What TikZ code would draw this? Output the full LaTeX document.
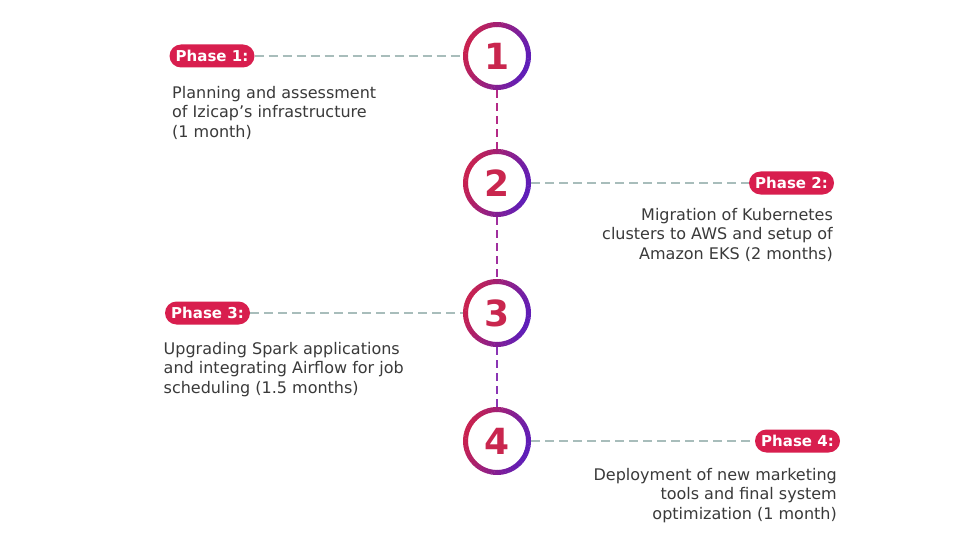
\documentclass[tikz,border=0pt]{standalone}
\usepackage{fontspec}
\setmainfont{DejaVu Sans}
\definecolor{crim}{HTML}{C8214F}
\definecolor{purp}{HTML}{5E1DB8}
\definecolor{digit}{HTML}{C9264E}
\definecolor{tagred}{HTML}{D81E4E}
\definecolor{hline}{HTML}{A8BDBB}
\definecolor{txt}{HTML}{3A3A3A}
\definecolor{vA}{HTML}{B42A86}
\definecolor{vB}{HTML}{A02F9E}
\definecolor{vC}{HTML}{8A35B4}
\tikzset{
  numnode/.style={circle, minimum size=68pt, inner sep=0pt, text=digit,
    font=\fontsize{36}{36}\selectfont\bfseries},
  tag/.style={fill=tagred, text=white, rounded corners=11.5pt, minimum width=85pt,
    minimum height=23pt, inner sep=0pt, font=\fontsize{15}{15}\selectfont\bfseries},
  desc/.style={inner sep=0pt, text=txt, font=\fontsize{16}{19.6}\selectfont},
  hdash/.style={draw=hline, line width=2pt, dash pattern=on 9pt off 5pt},
  vdash/.style={line width=2pt, dash pattern=on 8pt off 5pt},
}
\newcommand{\gradring}[1]{%
  \foreach \a in {0,5,...,355}{%
    \pgfmathsetmacro{\tt}{50*(1+cos(\a+20))}%
    \draw[draw=purp!\tt!crim, line width=5pt] (#1.center) ++(\a:31.5pt) arc[start angle=\a, end angle=\a+5.6, radius=31.5pt];
  }%
}
\begin{document}
\begin{tikzpicture}[x=1pt,y=-1pt]
\useasboundingbox (0,0) rectangle (960,540);
\fill[white] (0,0) rectangle (960,540);

\node[numnode] (c1) at (497,56) {1};
\node[numnode] (c2) at (497,183) {2};
\node[numnode] (c3) at (497,313) {3};
\node[numnode] (c4) at (497,441) {4};
\gradring{c1}
\gradring{c2}
\gradring{c3}
\gradring{c4}

\draw[vdash, draw=vA] (c1) -- (c2);
\draw[vdash, draw=vB] (c2) -- (c3);
\draw[vdash, draw=vC] (c3) -- (c4);

\node[tag] (p1) at (212,56) {Phase 1:};
\node[tag] (p2) at (791.5,183) {Phase 2:};
\node[tag] (p3) at (207.5,313) {Phase 3:};
\node[tag] (p4) at (797.5,441) {Phase 4:};

\draw[hdash] (p1) -- (c1);
\draw[hdash] (c2) -- (p2);
\draw[hdash] (p3) -- (c3);
\draw[hdash] (c4) -- (p4);

\node[desc, anchor=north west, align=left] (d1) at (172,85.8)
  {Planning and assessment\\of Izicap’s infrastructure\\(1 month)};
\node[desc, anchor=north east, align=right] (d2) at (833,207.8)
  {Migration of Kubernetes\\clusters to AWS and setup of\\Amazon EKS (2 months)};
\node[desc, anchor=north west, align=left] (d3) at (163.5,341.8)
  {Upgrading Spark applications\\and integrating Airflow for job\\scheduling (1.5 months)};
\node[desc, anchor=north east, align=right] (d4) at (837,467.8)
  {Deployment of new marketing\\tools and final system\\optimization (1 month)};
\end{tikzpicture}
\end{document}
